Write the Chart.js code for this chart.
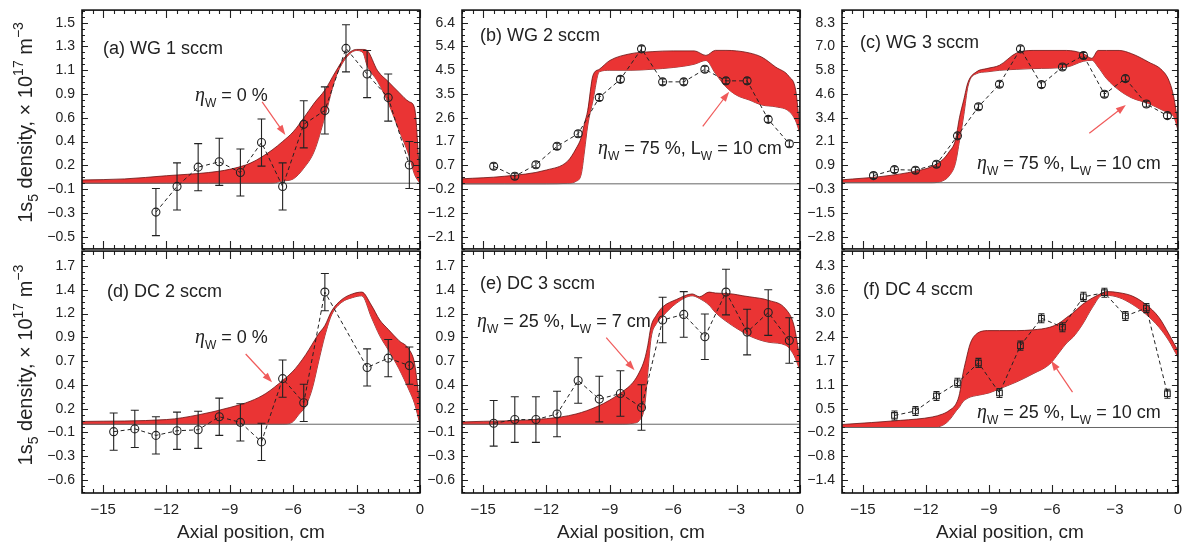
<!DOCTYPE html>
<html>
<head>
<meta charset="utf-8">
<script src="https://cdn.jsdelivr.net/npm/chart.js@4.4.0/dist/chart.umd.min.js"></script>
<style>
  body { margin: 0; background: #fff; width: 1182px; height: 545px; position: relative; overflow: hidden; }
  canvas { position: absolute; }
</style>
</head>
<body>
<script>
const FONT = '"Liberation Sans", Arial, sans-serif';
const RED = 'rgb(234,52,52)';

// x axis
const xTicks = [-15, -12, -9, -6, -3, 0];

// (a) WG 1 sccm
const aX = [-12.5, -11.5, -10.5, -9.5, -8.5, -7.5, -6.5, -5.5, -4.5, -3.5, -2.5, -1.5, -0.5];
const aY = [-0.27, -0.03, 0.15, 0.20, 0.10, 0.38, -0.03, 0.55, 0.68, 1.26, 1.02, 0.80, 0.17];
const aErr = [0.22, 0.22, 0.22, 0.22, 0.22, 0.22, 0.22, 0.22, 0.22, 0.22, 0.22, 0.22, 0.22];
const aBandX = [-16, -14, -12, -10, -9, -8, -7, -6.5, -6, -5.5, -5, -4.5, -4, -3.5, -3, -2.7, -2.5, -2, -1.5, -1, -0.5, -0.25, 0];
const aBandUp = [0.03, 0.04, 0.07, 0.10, 0.13, 0.19, 0.31, 0.39, 0.48, 0.61, 0.75, 0.87, 1.04, 1.19, 1.25, 1.25, 1.24, 1.05, 0.95, 0.85, 0.76, 0.70, 0.03];
const aBandLo = [0, 0, 0, 0, 0, 0, 0, 0.02, 0.04, 0.14, 0.30, 0.62, 0.98, 1.17, 1.24, 1.22, 1.10, 0.95, 0.75, 0.50, 0.25, 0.08, 0];
const aTicks = ['\u22120.5', '\u22120.3', '\u22120.1', '0.2', '0.4', '0.6', '0.9', '1.1', '1.3', '1.5'];

// (b) WG 2 sccm
const bX = [-14.5, -13.5, -12.5, -11.5, -10.5, -9.5, -8.5, -7.5, -6.5, -5.5, -4.5, -3.5, -2.5, -1.5, -0.5];
const bY = [0.70, 0.30, 0.76, 1.49, 1.99, 3.43, 4.15, 5.36, 4.05, 4.05, 4.55, 4.09, 4.09, 2.56, 1.59];
const bErr = [0.12, 0.12, 0.12, 0.12, 0.12, 0.12, 0.12, 0.12, 0.12, 0.12, 0.12, 0.12, 0.12, 0.12, 0.12];
const bBandX = [-16, -14, -12, -11, -10.6, -10.35, -10.2, -10.05, -9.8, -9.5, -9, -8, -7, -6, -5, -4.45, -4, -3.5, -3, -2.4, -1.8, -1.15, -0.5, -0.2, 0];
const bBandUp = [0.20, 0.30, 0.55, 0.90, 1.40, 1.85, 2.40, 2.90, 4.30, 4.55, 4.90, 5.17, 5.25, 5.28, 5.28, 5.10, 5.30, 5.30, 5.28, 5.20, 5.03, 4.64, 4.25, 3.72, 2.20];
const bBandLo = [0, 0, 0, 0.02, 0.10, 0.40, 1.30, 2.30, 3.30, 4.45, 4.51, 4.51, 4.55, 4.62, 4.75, 4.90, 4.38, 3.85, 3.52, 3.33, 3.13, 3.06, 2.87, 2.50, 2.00];
const bTicks = ['\u22122.1', '\u22121.2', '\u22120.2', '0.7', '1.7', '2.6', '3.5', '4.5', '5.4', '6.4'];

// (c) WG 3 sccm
const cX = [-14.5, -13.5, -12.5, -11.5, -10.5, -9.5, -8.5, -7.5, -6.5, -5.5, -4.5, -3.5, -2.5, -1.5, -0.5];
const cY = [0.37, 0.68, 0.65, 0.96, 2.43, 3.94, 5.11, 6.94, 5.09, 6.00, 6.60, 4.59, 5.40, 4.08, 3.48];
const cErr = [0.15, 0.15, 0.15, 0.15, 0.15, 0.15, 0.15, 0.15, 0.15, 0.15, 0.15, 0.15, 0.15, 0.15, 0.15];
const cBandX = [-16, -14, -12.5, -11.7, -11.2, -10.9, -10.6, -10.4, -10.2, -10, -9.6, -9.1, -8.5, -7.7, -6.9, -5.3, -4.5, -4.1, -3.8, -3.4, -2.8, -2.2, -1.4, -0.75, -0.43, -0.2, 0];
const cBandUp = [0.15, 0.34, 0.60, 0.85, 1.20, 1.60, 2.20, 3.40, 4.30, 5.20, 5.75, 5.92, 6.09, 6.72, 6.86, 6.86, 6.69, 6.45, 6.86, 6.86, 6.86, 6.69, 6.26, 5.83, 5.31, 4.46, 3.10];
const cBandLo = [0, 0, 0, 0, 0.10, 0.35, 1.00, 2.20, 3.50, 5.00, 5.65, 5.75, 5.83, 5.88, 5.92, 6.00, 6.30, 6.35, 6.00, 5.40, 4.80, 4.40, 4.11, 3.77, 3.60, 3.43, 2.75];
const cTicks = ['\u22122.8', '\u22121.5', '\u22120.3', '0.9', '2.1', '3.4', '4.6', '5.8', '7.0', '8.3'];

// (d) DC 2 sccm
const dX = [-14.5, -13.5, -12.5, -11.5, -10.5, -9.5, -8.5, -7.5, -6.5, -5.5, -4.5, -2.5, -1.5, -0.5];
const dY = [-0.08, -0.05, -0.12, -0.07, -0.06, 0.08, 0.02, -0.19, 0.49, 0.23, 1.42, 0.61, 0.71, 0.63];
const dErr = [0.2, 0.2, 0.2, 0.2, 0.2, 0.2, 0.2, 0.2, 0.2, 0.2, 0.2, 0.2, 0.2, 0.2];
const dBandX = [-16, -12, -10.5, -9, -8, -7.3, -6.5, -6.05, -5.75, -5.4, -5.1, -4.8, -4.5, -4.17, -3.7, -3.2, -2.75, -2.3, -1.9, -1.5, -1, -0.5, -0.25, 0];
const dBandUp = [0.03, 0.05, 0.10, 0.18, 0.25, 0.33, 0.47, 0.56, 0.64, 0.75, 0.86, 0.97, 1.06, 1.22, 1.34, 1.40, 1.42, 1.28, 1.12, 1.02, 0.90, 0.80, 0.65, 0.20];
const dBandLo = [0, 0, 0, 0, 0, 0, 0, 0.02, 0.10, 0.20, 0.38, 0.67, 0.95, 1.18, 1.31, 1.36, 1.38, 1.15, 0.95, 0.80, 0.60, 0.36, 0.22, 0];
const dTicks = ['\u22120.6', '\u22120.3', '\u22120.1', '0.2', '0.4', '0.7', '0.9', '1.2', '1.4', '1.7'];

// (e) DC 3 sccm
const eX = [-14.5, -13.5, -12.5, -11.5, -10.5, -9.5, -8.5, -7.5, -6.5, -5.5, -4.5, -3.5, -2.5, -1.5, -0.5];
const eY = [0.01, 0.05, 0.05, 0.11, 0.47, 0.27, 0.33, 0.18, 1.12, 1.18, 0.94, 1.42, 0.99, 1.20, 0.90];
const eErr = [0.245, 0.245, 0.245, 0.245, 0.245, 0.245, 0.245, 0.245, 0.245, 0.245, 0.245, 0.245, 0.245, 0.245, 0.245];
const eBandX = [-16, -12, -10.6, -9.6, -9, -8.4, -7.9, -7.6, -7.35, -7.2, -7.05, -6.8, -6.5, -5.85, -5.1, -4.75, -4.3, -4, -3.2, -2.7, -2.4, -1.46, -0.68, -0.28, 0];
const eBandUp = [0.025, 0.06, 0.11, 0.19, 0.26, 0.35, 0.45, 0.56, 0.70, 0.85, 1.05, 1.17, 1.26, 1.34, 1.40, 1.37, 1.42, 1.41, 1.40, 1.38, 1.37, 1.33, 1.24, 1.06, 0.70];
const eBandLo = [0, 0, 0, 0, 0, 0, 0.01, 0.04, 0.20, 0.56, 0.92, 1.08, 1.16, 1.30, 1.38, 1.35, 1.28, 1.20, 1.06, 0.99, 0.95, 0.88, 0.85, 0.74, 0.58];
const eTicks = dTicks;

// (f) DC 4 sccm
const fX = [-13.5, -12.5, -11.5, -10.5, -9.5, -8.5, -7.5, -6.5, -5.5, -4.5, -3.5, -2.5, -1.5, -0.5];
const fY = [0.32, 0.44, 0.84, 1.19, 1.72, 0.92, 2.18, 2.91, 2.67, 3.48, 3.59, 2.97, 3.18, 0.90];
const fErr = [0.12, 0.12, 0.12, 0.12, 0.12, 0.12, 0.12, 0.12, 0.12, 0.12, 0.12, 0.12, 0.12, 0.12];
const fBandX = [-16, -13.2, -11.7, -11.2, -10.9, -10.55, -10.4, -10.25, -10.1, -9.9, -9.6, -9, -8.5, -7.7, -6.9, -6.1, -5.65, -5.3, -5, -4.54, -4.07, -3.6, -3.4, -2.8, -2.17, -1.53, -0.9, -0.43, 0];
const fBandUp = [0.08, 0.19, 0.28, 0.36, 0.45, 0.65, 0.90, 1.40, 1.78, 2.22, 2.49, 2.58, 2.58, 2.58, 2.60, 2.67, 2.78, 2.93, 3.05, 3.28, 3.45, 3.58, 3.62, 3.59, 3.50, 3.28, 2.93, 2.49, 2.05];
const fBandLo = [0, 0, 0, 0.06, 0.19, 0.45, 0.55, 0.68, 0.75, 0.81, 0.85, 0.92, 1.03, 1.21, 1.43, 1.69, 2.00, 2.25, 2.40, 2.75, 3.20, 3.52, 3.52, 3.46, 3.28, 3.02, 2.67, 2.31, 1.87];
const fTicks = ['\u22121.4', '\u22120.8', '\u22120.2', '0.5', '1.1', '1.7', '2.4', '3.0', '3.6', '4.3'];

// annotation arrows: [tailX, tailY, tipX, tipY]
const arrows = {
  a: [-7.47, 0.76, -6.37, 0.45],
  b: [-4.6, 2.28, -3.35, 3.66],
  c: [-4.22, 2.57, -2.48, 4.03],
  d: [-8.25, 0.755, -7.0, 0.45],
  e: [-9.17, 0.93, -7.83, 0.58],
  f: [-5.02, 0.94, -6.04, 1.78]
};

const eta0 = [['\u03b7', 'g'], ['W', 'sub'], [' = 0 %', 'n']];
const eta = (n, l) => [['\u03b7', 'g'], ['W', 'sub'], [' = ' + n + ' %, L', 'n'], ['W', 'sub'], [' = ' + l + ' cm', 'n']];
const yTitle = [['1s', 'n'], ['5', 'sub'], [' density, \u00d7 10', 'n'], ['17', 'sup'], [' m', 'n'], ['\u22123', 'sup']];

const L = [82, 462, 842], R = [421, 801, 1179], T = [9, 250], B = [250, 493];

const panels = [
  { id: 'a', row: 0, col: 0, title: '(a) WG 1 sccm', tp: [21, 44], note: eta0, np: [113, 91], xs: aX, ys: aY, err: aErr, cap: 4, bx: aBandX, up: aBandUp, lo: aBandLo, labels: aTicks, lo0: -0.5, hi0: 1.5, marker: 'circle' },
  { id: 'b', row: 0, col: 1, title: '(b) WG 2 sccm', tp: [18, 31], note: eta(75, 10), np: [136, 144], xs: bX, ys: bY, err: bErr, cap: 3, bx: bBandX, up: bBandUp, lo: bBandLo, labels: bTicks, lo0: -2.1, hi0: 6.4, marker: 'circle' },
  { id: 'c', row: 0, col: 2, title: '(c) WG 3 sccm', tp: [18, 38], note: eta(75, 10), np: [135, 159], xs: cX, ys: cY, err: cErr, cap: 3, bx: cBandX, up: cBandUp, lo: cBandLo, labels: cTicks, lo0: -2.8, hi0: 8.3, marker: 'circle' },
  { id: 'd', row: 1, col: 0, title: '(d) DC 2 sccm', tp: [25, 46], note: eta0, np: [113, 92], xs: dX, ys: dY, err: dErr, cap: 4, bx: dBandX, up: dBandUp, lo: dBandLo, labels: dTicks, lo0: -0.6, hi0: 1.7, marker: 'circle' },
  { id: 'e', row: 1, col: 1, title: '(e) DC 3 sccm', tp: [18, 38], note: eta(25, 7), np: [15, 76], xs: eX, ys: eY, err: eErr, cap: 4, bx: eBandX, up: eBandUp, lo: eBandLo, labels: eTicks, lo0: -0.6, hi0: 1.7, marker: 'circle' },
  { id: 'f', row: 1, col: 2, title: '(f) DC 4 sccm', tp: [21, 44], note: eta(25, 10), np: [135, 167], xs: fX, ys: fY, err: fErr, cap: 3, bx: fBandX, up: fBandUp, lo: fBandLo, labels: fTicks, lo0: -1.4, hi0: 4.3, marker: 'rect' }
];

function rich(ctx, x, y, parts, size, dry) {
  let cx = x;
  for (const [t, k] of parts) {
    let font = size + 'px ' + FONT, dy = 0;
    if (k === 'g') font = 'italic ' + (size + 2) + 'px "Liberation Serif", serif';
    if (k === 'sub') { font = Math.round(size * 0.68) + 'px ' + FONT; dy = size * 0.32; }
    if (k === 'sup') { font = Math.round(size * 0.68) + 'px ' + FONT; dy = -size * 0.45; }
    ctx.font = font;
    if (!dry) ctx.fillText(t, cx, y + dy);
    cx += ctx.measureText(t).width;
  }
  return cx - x;
}

function makeDeco(p) {
  return {
    id: 'deco',
    afterDatasetsDraw(chart) {
      const { ctx, chartArea: a, scales: { x, y } } = chart;
      ctx.save();

      // error bars
      ctx.strokeStyle = '#222';
      ctx.lineWidth = 1.1;
      ctx.beginPath();
      p.xs.forEach((xv, i) => {
        const cx = x.getPixelForValue(xv);
        const cy = y.getPixelForValue(p.ys[i]);
        const y1 = y.getPixelForValue(p.ys[i] + p.err[i]);
        const y2 = y.getPixelForValue(p.ys[i] - p.err[i]);
        ctx.moveTo(cx, y1); ctx.lineTo(cx, cy);
        ctx.moveTo(cx, y2); ctx.lineTo(cx, cy);
        ctx.moveTo(cx - p.cap, y1); ctx.lineTo(cx + p.cap, y1);
        ctx.moveTo(cx - p.cap, y2); ctx.lineTo(cx + p.cap, y2);
      });
      ctx.stroke();

      // arrow
      const [ax1, ay1, ax2, ay2] = arrows[p.id];
      const x1 = x.getPixelForValue(ax1), y1 = y.getPixelForValue(ay1);
      const x2 = x.getPixelForValue(ax2), y2 = y.getPixelForValue(ay2);
      const ang = Math.atan2(y2 - y1, x2 - x1);
      ctx.strokeStyle = 'rgb(240,90,90)';
      ctx.fillStyle = 'rgb(240,90,90)';
      ctx.lineWidth = 1.2;
      ctx.beginPath();
      ctx.moveTo(x1, y1);
      ctx.lineTo(x2 - 7 * Math.cos(ang), y2 - 7 * Math.sin(ang));
      ctx.stroke();
      ctx.beginPath();
      ctx.moveTo(x2, y2);
      ctx.lineTo(x2 - 10 * Math.cos(ang) + 3.5 * Math.sin(ang), y2 - 10 * Math.sin(ang) - 3.5 * Math.cos(ang));
      ctx.lineTo(x2 - 10 * Math.cos(ang) - 3.5 * Math.sin(ang), y2 - 10 * Math.sin(ang) + 3.5 * Math.cos(ang));
      ctx.closePath();
      ctx.fill();

      // inside ticks
      ctx.strokeStyle = '#222';
      ctx.lineWidth = 1.1;
      ctx.beginPath();
      for (let v = -16; v <= 0.001; v += 0.5) {
        const px = Math.round(x.getPixelForValue(v)) + 0.5;
        const len = Math.abs(v % 3) < 1e-6 ? 8 : 4;
        ctx.moveTo(px, a.bottom); ctx.lineTo(px, a.bottom - len);
        ctx.moveTo(px, a.top); ctx.lineTo(px, a.top + len);
      }
      const yt = y.ticks.map(t => t.value);
      const st = (yt[1] - yt[0]) / 4;
      for (let v = yt[0] - 4 * st; v <= y.max; v += st) {
        if (v < y.min) continue;
        const py = Math.round(y.getPixelForValue(v)) + 0.5;
        const k = Math.round((v - yt[0]) / st);
        const len = k % 4 === 0 ? 6 : 3;
        ctx.moveTo(a.left, py); ctx.lineTo(a.left + len, py);
        ctx.moveTo(a.right, py); ctx.lineTo(a.right - len, py);
      }
      ctx.stroke();

      // frame
      ctx.strokeStyle = '#111';
      ctx.lineWidth = 1.6;
      ctx.strokeRect(a.left, a.top, a.right - a.left, a.bottom - a.top);

      // texts
      ctx.fillStyle = '#222';
      ctx.textBaseline = 'alphabetic';
      ctx.textAlign = 'left';
      ctx.font = '18px ' + FONT;
      ctx.fillText(p.title, a.left + p.tp[0], a.top + p.tp[1]);
      rich(ctx, a.left + p.np[0], a.top + p.np[1], p.note, 18);

      // y title
      if (p.col === 0) {
        ctx.save();
        ctx.translate(25, (a.top + a.bottom) / 2 - 7);
        ctx.rotate(-Math.PI / 2);
        const w = rich(ctx, 0, 0, yTitle, 20, true);
        rich(ctx, -w / 2, 7, yTitle, 20);
        ctx.restore();
      }
      ctx.restore();
    }
  };
}

function makePanel(p) {
  const yw = p.col === 0 ? 82 : 41;
  const xh = p.row === 1 ? 52 : 4;
  const left = L[p.col] - yw, top = T[p.row] - 4;
  const w = R[p.col] - L[p.col] + yw + 4;
  const h = B[p.row] - T[p.row] + 4 + xh;
  const cv = document.createElement('canvas');
  cv.width = w; cv.height = h;
  cv.style.left = left + 'px'; cv.style.top = top + 'px';
  cv.style.width = w + 'px'; cv.style.height = h + 'px';
  document.body.appendChild(cv);

  const span = p.hi0 - p.lo0;
  const step = span / 9;
  const ymin = p.row === 0 ? p.lo0 - span * 12.3 / 216 : p.lo0 - span * 13 / 215;
  const ymax = p.row === 0 ? p.hi0 + span * 12.7 / 216 : p.hi0 + span * 15 / 215;
  const yVals = p.labels.map((_, i) => p.lo0 + i * step);

  new Chart(cv, {
    type: 'line',
    data: {
      datasets: [
        {
          data: p.xs.map((v, i) => ({ x: v, y: p.ys[i] })),
          borderColor: '#222', borderWidth: 1, borderDash: [4, 3],
          pointStyle: p.marker, pointRadius: 4, pointBorderWidth: 1.1,
          pointBorderColor: '#222', pointBackgroundColor: 'rgba(0,0,0,0)',
          fill: false, tension: 0
        },
        {
          data: [{ x: -16, y: 0 }, { x: 0, y: 0 }],
          borderColor: '#666', borderWidth: 1, pointRadius: 0, fill: false
        },
        {
          data: p.bx.map((v, i) => ({ x: v, y: p.up[i] })),
          borderColor: '#6a1010', borderWidth: 0.8, pointRadius: 0,
          fill: '+1', backgroundColor: RED, cubicInterpolationMode: 'monotone'
        },
        {
          data: p.bx.map((v, i) => ({ x: v, y: p.lo[i] })),
          borderColor: '#6a1010', borderWidth: 0.8, pointRadius: 0,
          fill: false, cubicInterpolationMode: 'monotone'
        }
      ]
    },
    options: {
      responsive: false,
      animation: false,
      devicePixelRatio: 1,
      events: [],
      layout: { padding: { left: 0, right: 4, top: 4, bottom: 0 } },
      plugins: { legend: { display: false }, tooltip: { enabled: false } },
      scales: {
        x: {
          type: 'linear', min: -16, max: 0,
          grid: { display: false, drawTicks: false },
          border: { display: false },
          afterBuildTicks: s => { s.ticks = xTicks.map(v => ({ value: v })); },
          afterFit: s => { s.height = xh; s.paddingLeft = 0; s.paddingRight = 0; },
          ticks: {
            display: p.row === 1, autoSkip: false, maxRotation: 0, padding: 8,
            color: '#222', font: { family: FONT, size: 15 },
            callback: v => (v === 0 ? '0' : '\u2212' + Math.abs(v))
          },
          title: {
            display: p.row === 1, text: 'Axial position, cm', color: '#222',
            font: { family: FONT, size: 19 }, padding: { top: 0, bottom: 1 }
          }
        },
        y: {
          type: 'linear', min: ymin, max: ymax,
          grid: { display: false, drawTicks: false },
          border: { display: false },
          afterBuildTicks: s => { s.ticks = yVals.map(v => ({ value: v })); },
          afterFit: s => { s.width = yw; s.paddingTop = 0; s.paddingBottom = 0; },
          ticks: {
            autoSkip: false, padding: 7, color: '#222',
            font: { family: FONT, size: 14 },
            callback: (v, i) => p.labels[i]
          }
        }
      }
    },
    plugins: [makeDeco(p)]
  });
}

panels.forEach(makePanel);
</script>
</body>
</html>
